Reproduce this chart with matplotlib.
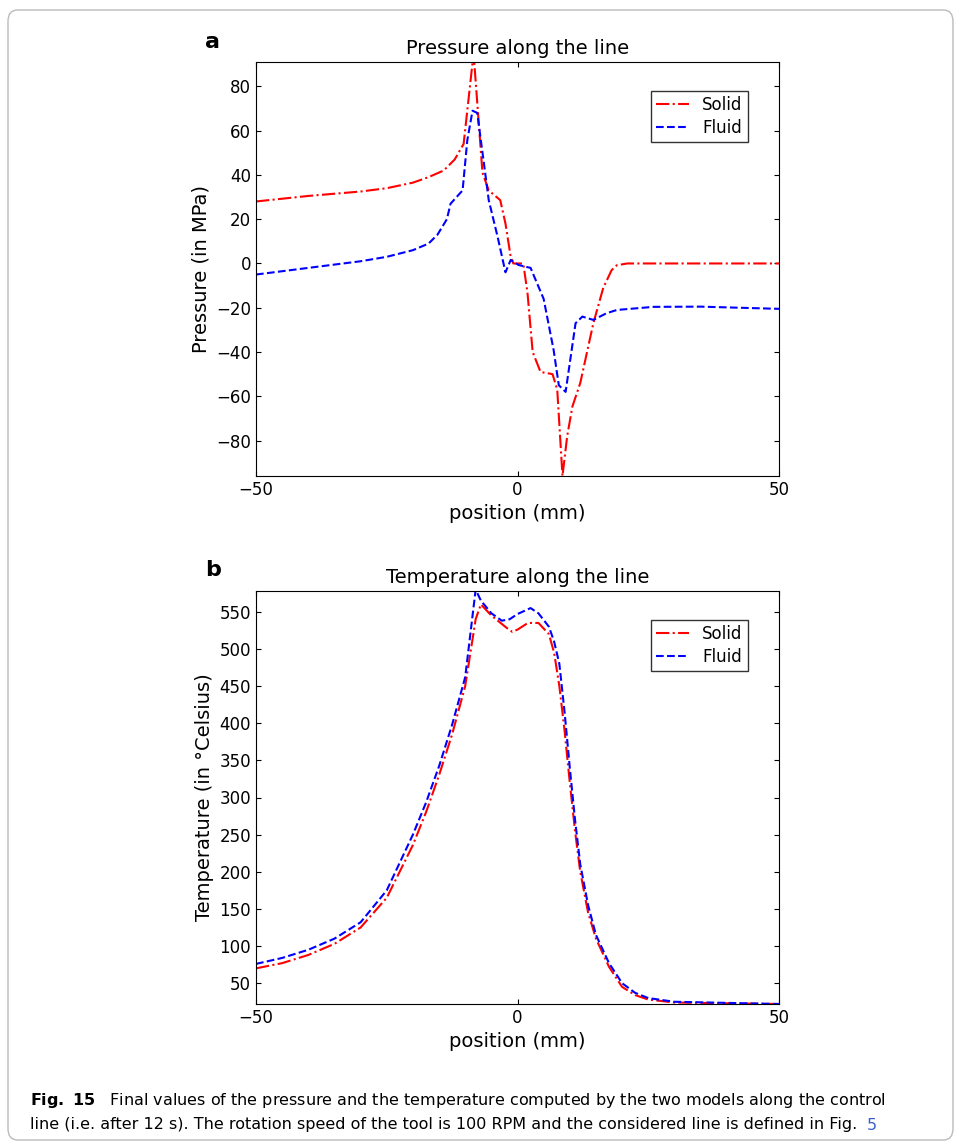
import matplotlib.pyplot as plt
from matplotlib.patches import FancyBboxPatch

# pressure data (mm, MPa)
p_solid_x = [-50, -40, -30, -25, -20, -17, -14.1, -12, -10.3, -8.4, -6.7, -5.5, -3.3, -2.3, -1.3, -0.8, 1.1, 1.9, 2.9,
             4.4, 6.7, 7.6, 8.6, 9.5, 10.5, 12, 14.5, 16.4, 18, 19, 21, 25, 50]
p_solid_y = [28, 30.5, 32.5, 34, 36.5, 39, 42, 47, 54, 95, 41, 33, 28.6, 18, 3, 0, 0, -13, -40,
             -49, -50, -57, -96, -78, -64.6, -54, -27, -11, -3, -0.8, 0, 0, 0]
p_fluid_x = [-50, -40, -30, -25, -20, -17, -15.3, -13.5, -12.8, -10.5, -9.6, -8.6, -7.7, -6.5, -5.5, -3.8, -2.3, -1.3,
             0.2, 2.5, 5, 6.9, 7.9, 9.2, 11.1, 12.4, 14.5, 17, 19, 26, 35, 50]
p_fluid_y = [-5, -2, 1, 3, 6, 9, 13, 20, 27, 33, 55.6, 69, 68, 46.6, 28.6, 12, -4, 1.6,
             -0.7, -2, -16, -39, -55, -58, -27, -24, -25.5, -22.5, -21, -19.6, -19.5, -20.5]

# temperature data (mm, Celsius)
t_solid_x = [-50, -45, -40, -35, -30, -25, -20, -17.5, -15, -12.5, -10, -8, -7, -5, -2, -1, 0, 2, 4, 6, 7, 8, 9, 10, 11,
             12, 13.5, 15, 17.5, 20, 22.5, 25, 30, 50]
t_solid_y = [70, 77, 88, 103, 125, 165, 236, 280, 330, 385, 450, 540, 560, 545, 528, 523, 526, 535, 535, 520, 495, 450,
             390, 320, 255, 200, 145, 110, 72, 45, 34, 28, 24, 22]
t_fluid_x = [-50, -45, -40, -35, -30, -25, -20, -17.5, -15, -12.5, -10, -8, -7, -5, -3, -1.5, 0, 2.5, 4, 6, 7, 8, 9, 10,
             11, 12, 13.5, 15, 17.5, 20, 22.5, 25, 30, 50]
t_fluid_y = [76, 84, 95, 110, 132, 175, 250, 293, 342, 398, 462, 580, 565, 548, 538, 540, 547, 555, 548, 530, 510, 480,
             415, 340, 270, 210, 155, 115, 77, 50, 37, 30, 25, 22]

W, H = 955, 1144
fig = plt.figure(figsize=(W / 100, H / 100), dpi=100)
plt.rcParams['font.family'] = ['DejaVu Sans']


def ax_at(l, t, r, b):
    return fig.add_axes([l / W, 1 - b / H, (r - l) / W, (b - t) / H])


ax1 = ax_at(256, 62, 779, 476)
ax1.plot(p_solid_x, p_solid_y, 'r-.', lw=1.5, label='Solid')
ax1.plot(p_fluid_x, p_fluid_y, 'b--', lw=1.5, label='Fluid')
ax1.set_xlim(-50, 50)
ax1.set_ylim(-96, 91)
ax1.set_xticks([-50, 0, 50])
ax1.set_yticks(range(-80, 81, 20))
ax1.set_xticklabels(['\u221250', '0', '50'])
ax1.set_yticklabels([str(v).replace('-', '\u2212') for v in range(-80, 81, 20)])
ax1.set_title('Pressure along the line', fontsize=14, pad=6)
ax1.set_xlabel('position (mm)', fontsize=14)
ax1.set_ylabel('Pressure (in MPa)', fontsize=14)
ax1.text(205 / W, 1 - 42 / H, 'a', transform=fig.transFigure, fontsize=16, fontweight='bold', va='center')

ax2 = ax_at(256, 591, 779, 1004)
ax2.plot(t_solid_x, t_solid_y, 'r-.', lw=1.5, label='Solid')
ax2.plot(t_fluid_x, t_fluid_y, 'b--', lw=1.5, label='Fluid')
ax2.set_xlim(-50, 50)
ax2.set_ylim(22, 578)
ax2.set_xticks([-50, 0, 50])
ax2.set_xticklabels(['\u221250', '0', '50'])
ax2.set_yticks(range(50, 551, 50))
ax2.set_title('Temperature along the line', fontsize=14, pad=6)
ax2.set_xlabel('position (mm)', fontsize=14)
ax2.set_ylabel('Temperature (in \u00b0Celsius)', fontsize=14)
ax2.text(205 / W, 1 - 570 / H, 'b', transform=fig.transFigure, fontsize=16, fontweight='bold', va='center')

for ax in (ax1, ax2):
    ax.tick_params(direction='in', labelsize=12, top=True, right=True)
    ax.legend(loc='upper right', bbox_to_anchor=(0.94, 0.93), fontsize=12, fancybox=False,
              edgecolor='black', handlelength=2, borderaxespad=0, borderpad=0.3, labelspacing=0.3)

fig.patches.append(FancyBboxPatch((8 / W, 4 / H), (W - 10) / W, (H - 14) / H,
                                  boxstyle='round,pad=0,rounding_size=0.01', transform=fig.transFigure,
                                  fill=False, edgecolor='#bbbbbb', lw=1))
fig.text(30 / W, 1 - 1100 / H, r'$\bf{Fig.\ 15}$   Final values of the pressure and the temperature computed by the two models along the control',
         fontsize=11.5, va='center')
t = fig.text(30 / W, 1 - 1125 / H, 'line (i.e. after 12 s). The rotation speed of the tool is 100 RPM and the considered line is defined in Fig. ',
             fontsize=11.5, va='center')
fig.canvas.draw()
bb = t.get_window_extent()
fig.text((bb.x1 + 4) / W, 1 - 1125 / H, '5', fontsize=11.5, va='center', color='#3a5fcd')

fig.savefig('out.png', dpi=100)
